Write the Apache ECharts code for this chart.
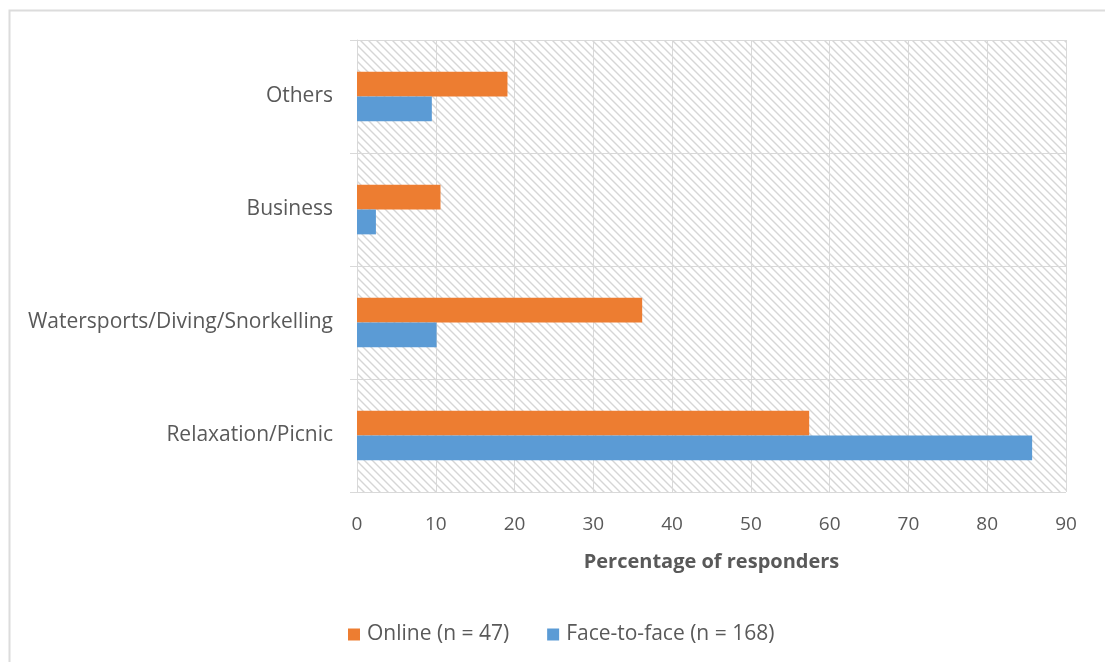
<!DOCTYPE html>
<html>
<head>
<meta charset="utf-8">
<script src="https://cdn.jsdelivr.net/npm/echarts@6/dist/echarts.min.js"></script>
<style>
  html, body { margin: 0; padding: 0; background: #ffffff; }
  #chart { width: 1105px; height: 662px; }
</style>
</head>
<body>
<div id="chart"></div>
<script>
// Purposes of visit, bottom to top on the category axis
const categories = ['Relaxation/Picnic', 'Watersports/Diving/Snorkelling', 'Business', 'Others'];
// Percentage of responders per group
const onlineValues = [57.4, 36.2, 10.6, 19.1];      // Online (n = 47)
const faceToFaceValues = [85.7, 10.1, 2.4, 9.5];    // Face-to-face (n = 168)
const xTicks = { min: 0, max: 90, interval: 10 };
const seriesNames = ['Online (n = 47)', 'Face-to-face (n = 168)'];

// Diagonal hatch used as the plot-area fill
function makeHatch() {
  const size = 8;
  const c = document.createElement('canvas');
  c.width = size; c.height = size;
  const ctx = c.getContext('2d');
  ctx.fillStyle = '#ffffff';
  ctx.fillRect(0, 0, size, size);
  ctx.strokeStyle = '#d6d6d6';
  ctx.lineWidth = 1.4;
  ctx.beginPath();
  ctx.moveTo(-size, -size); ctx.lineTo(2 * size, 2 * size);
  ctx.moveTo(-size, 0); ctx.lineTo(size, 2 * size);
  ctx.moveTo(0, -size); ctx.lineTo(2 * size, size);
  ctx.stroke();
  return c;
}

const textColor = '#595959';
const lineColor = '#d9d9d9';
const font = '"Open Sans", sans-serif';

const chart = echarts.init(document.getElementById('chart'), null, { renderer: 'canvas' });
chart.setOption({
  animation: false,
  backgroundColor: '#ffffff',
  textStyle: { fontFamily: font },
  graphic: [{
    type: 'rect',
    shape: { x: 9.5, y: 10.5, width: 1200, height: 800 },
    style: { fill: null, stroke: '#dcdcdc', lineWidth: 2 },
    z: -1
  }],
  grid: {
    left: 357, right: 39, top: 40, bottom: 170,
    show: true,
    backgroundColor: { image: makeHatch(), repeat: 'repeat' },
    borderWidth: 0
  },
  legend: {
    left: 343, top: 619,
    itemWidth: 12, itemHeight: 12, itemGap: 38,
    icon: 'rect',
    data: [seriesNames[0], seriesNames[1]],
    textStyle: { color: textColor, fontSize: 21, fontFamily: font, padding: [0, 0, 0, 2] }
  },
  xAxis: {
    type: 'value',
    min: xTicks.min, max: xTicks.max, interval: xTicks.interval,
    name: 'Percentage of responders',
    nameLocation: 'middle',
    nameGap: 60,
    nameTextStyle: { color: textColor, fontSize: 20, fontWeight: 'bold', fontFamily: font },
    axisLine: { show: false },
    axisTick: { show: false },
    axisLabel: { color: textColor, fontSize: 19, margin: 23, fontFamily: font },
    splitLine: { show: true, lineStyle: { color: lineColor, width: 1 } }
  },
  yAxis: {
    type: 'category',
    data: categories,
    axisLine: { show: true, lineStyle: { color: lineColor, width: 1 } },
    axisTick: { show: true, length: 7, lineStyle: { color: lineColor } },
    axisLabel: { color: textColor, fontSize: 21, margin: 24, fontFamily: font, padding: [6, 0, 0, 0] },
    splitLine: { show: true, lineStyle: { color: lineColor, width: 1 } }
  },
  series: [
    {
      name: seriesNames[0],
      type: 'bar',
      data: onlineValues,
      itemStyle: { color: '#ed7d31' },
      barGap: '0%',
      barCategoryGap: '56%'
    },
    {
      name: seriesNames[1],
      type: 'bar',
      data: faceToFaceValues,
      itemStyle: { color: '#5b9bd5' },
      barGap: '0%',
      barCategoryGap: '56%'
    }
  ]
});
</script>
</body>
</html>
